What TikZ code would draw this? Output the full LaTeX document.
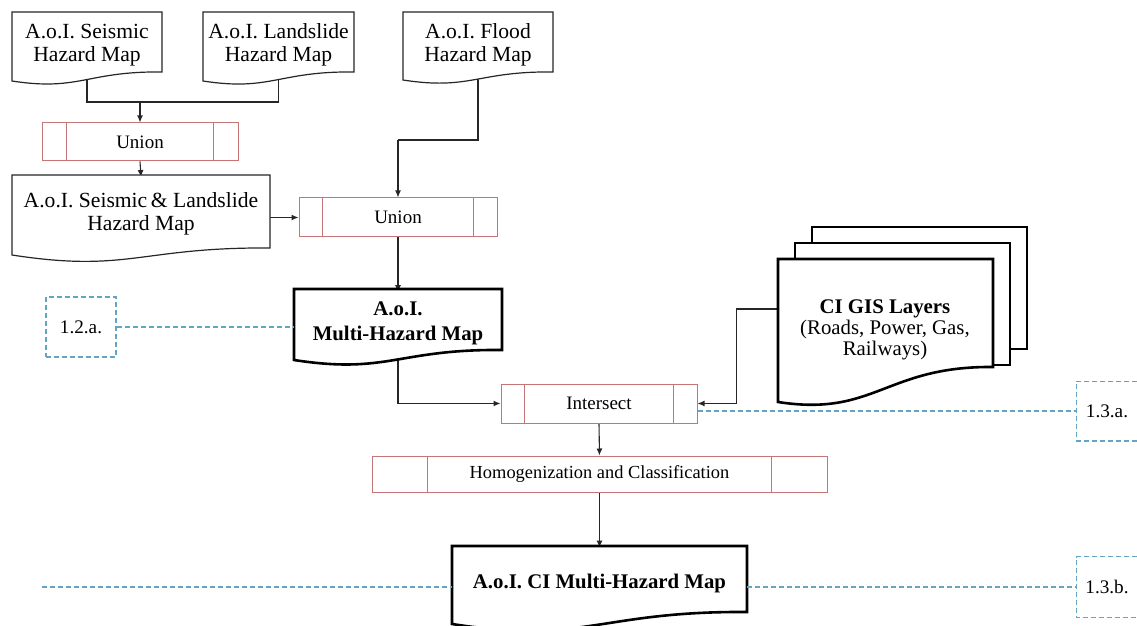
\documentclass[tikz,border=0pt]{standalone}
\usepackage{fontspec}
\setmainfont{Liberation Serif}
\usetikzlibrary{arrows.meta,backgrounds}
\definecolor{procred}{RGB}{196,118,118}
\definecolor{dashblue}{RGB}{100,165,195}
\newcommand{\wavedoc}[6]{%
  \draw[#1] (#2,#3) -- (#4,#3) -- (#4,#6)
    .. controls ({#2+0.5*(#4-#2)},{#6-1}) and ({#2+0.45*(#4-#2)},{#5+0.07*(#4-#2)}) .. (#2,#5) -- cycle;}
\newcommand{\innerbars}[2]{%
  \draw[procline] ([xshift=#2]#1.north west) -- ([xshift=#2]#1.south west)
                  ([xshift=-#2]#1.north east) -- ([xshift=-#2]#1.south east);}
\tikzset{
  docnode/.style={draw=none, inner sep=0pt, align=center, font=\fontsize{10.8}{11.3}\selectfont},
  bolddoc/.style={draw=none, inner sep=0pt, align=center, font=\bfseries\fontsize{10.4}{12.5}\selectfont},
  proc/.style={draw=procred, line width=0.5pt, inner sep=0pt, font=\fontsize{9.5}{11}\selectfont},
  procline/.style={draw=procred, line width=0.5pt},
  thindoc/.style={draw=black!85, line width=0.6pt, fill=white},
  thickdoc/.style={draw=black, line width=1.3pt, fill=white},
  conn/.style={draw=black!85, line width=0.55pt},
  arr/.style={conn, -{Latex[length=3.5pt,width=3pt]}},
  dashline/.style={draw=dashblue, line width=0.6pt, dash pattern=on 2.5pt off 1.5pt},
  refbox/.style={draw=dashblue, line width=0.6pt, dash pattern=on 2.5pt off 1.5pt, inner sep=0pt, font=\fontsize{9.6}{11}\selectfont},
  refopen/.style={draw=none, inner sep=0pt, font=\fontsize{9.6}{11}\selectfont}
}
\begin{document}
\begin{tikzpicture}[x=0.5pt,y=-0.5pt]
\useasboundingbox (0,0) rectangle (1137,626);

% documents (text holders)
\node[docnode, minimum width=75pt, minimum height=30pt] (seis) at (87,45) {A.o.I. Seismic\\Hazard Map};
\node[docnode, minimum width=75.5pt, minimum height=30pt] (land) at (278.5,45) {A.o.I. Landslide\\Hazard Map};
\node[docnode, minimum width=75pt, minimum height=30pt] (flood) at (478,45) {A.o.I. Flood\\Hazard Map};
\node[docnode, minimum width=129pt, minimum height=36.5pt] (sl) at (141,214) {A.o.I. Seismic\,\&\ Landslide\\Hazard Map};
\node[bolddoc, minimum width=104pt, minimum height=30.5pt] (mh) at (398,323) {A.o.I.\\Multi-Hazard Map};
\node[docnode, minimum width=107.5pt, minimum height=68pt, font=\fontsize{10.4}{10.6}\selectfont] (gis) at (885,330) {\textbf{CI GIS Layers}\\(Roads, Power, Gas,\\Railways)};
\node[bolddoc, minimum width=147.5pt, minimum height=35pt] (final) at (599.5,583) {A.o.I. CI Multi-Hazard Map};

% processes
\node[proc, minimum width=98pt, minimum height=19pt] (u1) at (140,142) {Union};
\node[proc, minimum width=99pt, minimum height=19.5pt] (u2) at (398,217.5) {Union};
\node[proc, minimum width=98pt, minimum height=19.5pt] (inter) at (599,403.5) {Intersect};
\node[proc, minimum width=227.5pt, minimum height=18pt, font=\fontsize{9.2}{11}\selectfont] (homog) at (599.5,474) {Homogenization and Classification};
\innerbars{u1}{12.5pt}
\innerbars{u2}{12pt}
\innerbars{inter}{12pt}
\innerbars{homog}{28pt}

% reference boxes
\node[refbox, minimum width=35pt, minimum height=30pt] (b12) at (81,327) {1.2.a.};
\node[refopen, minimum width=30pt, minimum height=29.5pt] (b13a) at (1107,411) {1.3.a.};
\node[refopen, minimum width=30pt, minimum height=30pt] (b13b) at (1107,587) {1.3.b.};
\draw[dashline] (b13a.north east) -- (b13a.north west) -- (b13a.south west) -- (b13a.south east);
\draw[dashline] (b13b.north east) -- (b13b.north west) -- (b13b.south west) -- (b13b.south east);
\coordinate (dl) at (42,587);

% dashed reference lines
\draw[dashline] (b12.east) -- (b12.east -| mh.west);
\draw[dashline] (b13a.west -| inter.east) -- (b13a.west);
\draw[dashline] (dl) -- (dl -| final.west);
\draw[dashline] (final.east |- b13b.west) -- (b13b.west);

\begin{pgfonlayer}{background}
  % connectors
  \coordinate (j1) at (140,102);
  \coordinate (j2) at (398,140);
  \draw[conn] (seis.south) |- (j1);
  \draw[conn] (land.south) |- (j1);
  \draw[arr] (j1) -- (u1.north);
  \draw[arr] (u1.south) -- (sl.north);
  \draw[arr] (u2.west -| sl.east) -- (u2.west);
  \draw[conn] (flood.south) |- (j2);
  \draw[arr] (j2) -- (u2.north);
  \draw[arr] (u2.south) -- (mh.north);
  \draw[arr] (mh.south) |- (inter.west);
  \draw[arr] ([yshift=10.5pt]gis.west) -- ++(-41,0) |- (inter.east);
  \draw[arr] (inter.south) -- (homog.north);
  \draw[arr] (homog.south) -- (final.north);
  % document outlines
  \wavedoc{thindoc}{12}{12}{162}{81}{72}
  \wavedoc{thindoc}{203}{12}{354}{81}{72}
  \wavedoc{thindoc}{403}{12}{553}{80}{72}
  \wavedoc{thindoc}{12}{175}{270}{255}{248}
  \wavedoc{thickdoc}{294}{289}{502}{360}{350}
  \draw[thickdoc] (812,227) rectangle (1027,349);
  \draw[thickdoc] (795,243) rectangle (1010,365);
  \wavedoc{thickdoc}{778}{259}{993}{402}{367}
  \wavedoc{thickdoc}{452}{546}{747}{624}{612}
\end{pgfonlayer}
\end{tikzpicture}
\end{document}
